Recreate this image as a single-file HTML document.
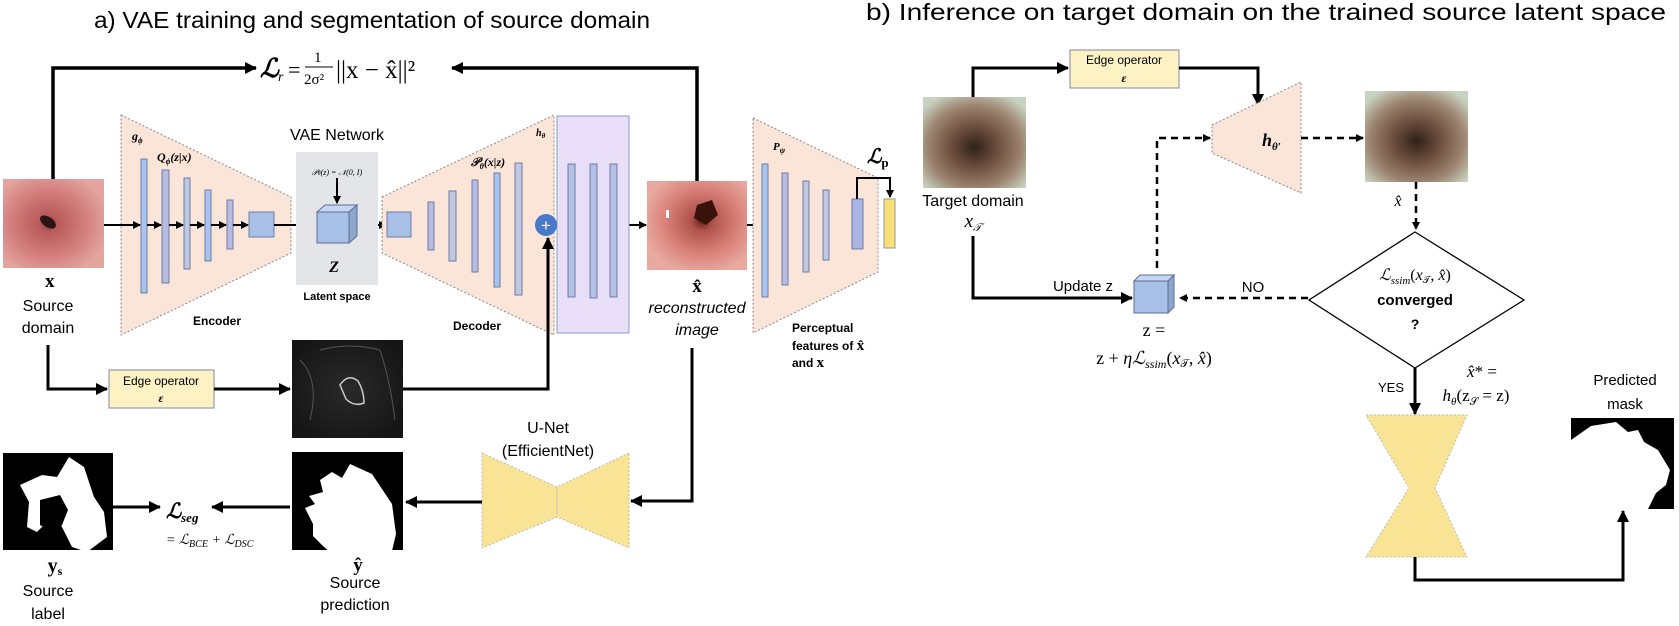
<!DOCTYPE html>
<html><head><meta charset="utf-8"><style>
html,body{margin:0;padding:0;background:#fff;}
svg{display:block;}
.t{font-family:"Liberation Sans",sans-serif;}
.m{font-family:"Liberation Serif",serif;font-style:italic;}
.b{font-family:"Liberation Serif",serif;font-weight:bold;}
</style></head><body>
<svg width="1679" height="626" viewBox="0 0 1679 626" xmlns="http://www.w3.org/2000/svg">
<defs>
<marker id="a" markerWidth="8" markerHeight="8" refX="7" refY="4" orient="auto" markerUnits="userSpaceOnUse"><path d="M0,0 L8,4 L0,8 z" fill="#000"/></marker>
<marker id="s" markerWidth="12" markerHeight="12" refX="11" refY="6" orient="auto" markerUnits="userSpaceOnUse"><path d="M0,0 L12,6 L0,12 z" fill="#000"/></marker>
<radialGradient id="src" cx="45%" cy="50%" r="60%"><stop offset="0" stop-color="#7a3a38"/><stop offset="0.15" stop-color="#b85a5a"/><stop offset="0.6" stop-color="#d27d7c"/><stop offset="1" stop-color="#e3a59e"/></radialGradient>
<radialGradient id="rec" cx="55%" cy="45%" r="60%"><stop offset="0" stop-color="#5a1f18"/><stop offset="0.18" stop-color="#b0534c"/><stop offset="0.6" stop-color="#d88078"/><stop offset="1" stop-color="#e8aaa0"/></radialGradient>
<radialGradient id="tgt" cx="50%" cy="55%" r="65%"><stop offset="0" stop-color="#2e2218"/><stop offset="0.35" stop-color="#6e4e3e"/><stop offset="0.7" stop-color="#9c8470"/><stop offset="1" stop-color="#c8d2c0"/></radialGradient>
<radialGradient id="edg" cx="50%" cy="50%" r="60%"><stop offset="0" stop-color="#2a2a2a"/><stop offset="1" stop-color="#151515"/></radialGradient>
</defs>

<text x="94" y="28" class="t" font-size="23" textLength="556" lengthAdjust="spacingAndGlyphs">a) VAE training and segmentation of source domain</text>
<text x="866" y="20" class="t" font-size="23" textLength="800" lengthAdjust="spacingAndGlyphs">b) Inference on target domain on the trained source latent space</text>

<polyline points="53,179 53,68 256,68" fill="none" stroke="#000" stroke-width="3.5" marker-end="url(#s)"/>
<polyline points="697,181 697,68 452,68" fill="none" stroke="#000" stroke-width="3.5" marker-end="url(#s)"/>
<text x="260" y="77" class="m" font-size="26" font-weight="bold">ℒ</text><text x="278" y="81" class="m" font-size="14">r</text>
<text x="288" y="77" font-family="Liberation Serif" font-size="22">=</text>
<text x="314" y="62" font-family="Liberation Serif" font-size="15">1</text>
<line x1="305" y1="67" x2="333" y2="67" stroke="#000" stroke-width="1"/>
<text x="304" y="84" font-family="Liberation Serif" font-size="15">2σ²</text>
<text x="336" y="78" font-family="Liberation Serif" font-size="25">||x − x̂||²</text>

<rect x="3" y="179" width="101" height="89" fill="url(#src)"/>
<ellipse cx="48" cy="222" rx="9" ry="5" fill="#2a1414" transform="rotate(35 48 222)"/>
<text x="45" y="287" class="b" font-size="19">x</text>
<text x="48" y="311" class="t" font-size="16" text-anchor="middle">Source</text>
<text x="48" y="333" class="t" font-size="16" text-anchor="middle">domain</text>

<polygon points="121,115 291,197 291,253 121,335" fill="#fbe5d8" stroke="#888" stroke-width="1" stroke-dasharray="2,2"/>
<g stroke="#6c7ca8" stroke-width="1">
<rect x="141" y="159" width="6" height="134" fill="#a8c4ec"/>
<rect x="162" y="170" width="7" height="113" fill="#b8bde0"/>
<rect x="184" y="178" width="6" height="91" fill="#c0c8e0"/>
<rect x="205" y="190" width="6" height="71" fill="#a8c4ec"/>
<rect x="227" y="200" width="6" height="49" fill="#b8bde0"/>
<rect x="249" y="212" width="25" height="25" fill="#a9c0e6"/>
</g>
<g stroke="#000" stroke-width="2" marker-end="url(#a)">
<line x1="104" y1="225" x2="140" y2="225"/><line x1="147" y1="225" x2="161" y2="225"/><line x1="169" y1="225" x2="183" y2="225"/><line x1="190" y1="225" x2="204" y2="225"/><line x1="211" y1="225" x2="226" y2="225"/><line x1="233" y1="225" x2="248" y2="225"/>
<line x1="274" y1="225" x2="316" y2="225"/><line x1="357" y1="225" x2="386" y2="225"/>
<line x1="411" y1="225" x2="427" y2="225"/><line x1="434" y1="225" x2="448" y2="225"/><line x1="456" y1="225" x2="471" y2="225"/><line x1="479" y1="225" x2="493" y2="225"/><line x1="500" y1="225" x2="514" y2="225"/><line x1="522" y1="225" x2="535" y2="225"/>
<line x1="557" y1="225" x2="567" y2="225"/><line x1="576" y1="225" x2="589" y2="225"/><line x1="597" y1="225" x2="609" y2="225"/><line x1="617" y1="225" x2="646" y2="225"/>
<line x1="747" y1="225" x2="761" y2="225"/><line x1="768" y1="225" x2="781" y2="225"/><line x1="788" y1="225" x2="802" y2="225"/><line x1="809" y1="225" x2="822" y2="225"/><line x1="829" y1="225" x2="851" y2="225"/>
</g>
<text x="132" y="140" class="m" font-size="12" font-weight="bold">g<tspan font-size="8" dy="3">ϕ</tspan></text>
<text x="157" y="161" class="m" font-size="12" font-weight="bold">Q<tspan font-size="8" dy="3">ϕ</tspan><tspan dy="-3">(z|x)</tspan></text>
<text x="217" y="325" class="t" font-size="12" font-weight="bold" text-anchor="middle">Encoder</text>

<rect x="296" y="152" width="82" height="133" fill="#e3e5e8"/>
<text x="337" y="140" class="t" font-size="16" text-anchor="middle">VAE Network</text>
<text x="337" y="175" class="m" font-size="8" text-anchor="middle">𝒫<tspan font-size="6">θ</tspan>(z) = 𝒩(0, I)</text>
<line x1="337" y1="178" x2="337" y2="203" stroke="#000" stroke-width="2" marker-end="url(#a)"/>
<polygon points="317,212 325,205 357,205 349,212" fill="#c6d6f0" stroke="#5a6e96"/>
<polygon points="349,212 357,205 357,236 349,243" fill="#8fa6cc" stroke="#5a6e96"/>
<rect x="317" y="212" width="32" height="31" fill="#a9c0e6" stroke="#5a6e96"/>
<text x="334" y="272" class="m" font-size="16" font-weight="bold" text-anchor="middle">Z</text>
<text x="337" y="300" class="t" font-size="11" font-weight="bold" text-anchor="middle">Latent space</text>

<polygon points="382,197 554,115 554,335 382,253" fill="#fbe5d8" stroke="#888" stroke-width="1" stroke-dasharray="2,2"/>
<g stroke="#6c7ca8" stroke-width="1">
<rect x="387" y="212" width="24" height="25" fill="#a9c0e6"/>
<rect x="428" y="202" width="6" height="48" fill="#b8bde0"/>
<rect x="449" y="191" width="7" height="70" fill="#c0c8e0"/>
<rect x="472" y="180" width="6" height="92" fill="#b8bde0"/>
<rect x="494" y="173" width="6" height="114" fill="#a8c4ec"/>
<rect x="515" y="163" width="7" height="132" fill="#c0c8e0"/>
</g>
<text x="471" y="166" class="m" font-size="12" font-weight="bold">𝒫<tspan font-size="8" dy="3">θ</tspan><tspan dy="-3">(x|z)</tspan></text>
<text x="536" y="136" class="m" font-size="10" font-weight="bold">h<tspan font-size="7" dy="2">θ</tspan></text>
<text x="477" y="330" class="t" font-size="12" font-weight="bold" text-anchor="middle">Decoder</text>

<rect x="557" y="116" width="72" height="217" fill="#eadff8" stroke="#8a98cc" stroke-width="1"/>
<g stroke="#6c7ca8" stroke-width="1" fill="#b4c0e4">
<rect x="568" y="164" width="7" height="133"/><rect x="590" y="164" width="7" height="134"/><rect x="610" y="164" width="7" height="133"/>
</g>
<circle cx="546" cy="225" r="11" fill="#4a78c8"/>
<text x="546" y="231" class="t" font-size="17" fill="#fff" text-anchor="middle">+</text>

<polyline points="48,345 48,389 107,389" fill="none" stroke="#000" stroke-width="3" marker-end="url(#s)"/>
<rect x="109" y="370" width="105" height="38" fill="#fcf2c4" stroke="#7f8aa0"/>
<text x="161" y="385" class="t" font-size="12" text-anchor="middle">Edge operator</text>
<text x="161" y="402" class="m" font-size="12" font-weight="bold" text-anchor="middle">ε</text>
<line x1="214" y1="389" x2="290" y2="389" stroke="#000" stroke-width="3" marker-end="url(#s)"/>
<rect x="292" y="340" width="111" height="98" fill="url(#edg)"/>
<path d="M340,385 q8,-12 18,-4 q6,10 6,22 q-10,4 -18,-4 z" fill="none" stroke="#ccc" stroke-width="1.5"/>
<path d="M300,360 q20,20 10,60 M380,350 q10,30 15,70 M320,350 q30,-8 60,0" stroke="#555" fill="none"/>
<polyline points="403,389 548,389 548,238" fill="none" stroke="#000" stroke-width="3" marker-end="url(#s)"/>

<rect x="647" y="181" width="100" height="89" fill="url(#rec)"/>
<polygon points="697,205 712,200 718,215 706,225 694,218" fill="#3a120c"/>
<rect x="666" y="210" width="3" height="8" fill="#fff"/>
<text x="697" y="292" class="b" font-size="19" text-anchor="middle">x̂</text>
<text x="697" y="313" class="t" font-size="16" font-style="italic" text-anchor="middle">reconstructed</text>
<text x="697" y="335" class="t" font-size="16" font-style="italic" text-anchor="middle">image</text>

<polygon points="753,118 878,178 878,272 753,333" fill="#fbe5d8" stroke="#888" stroke-width="1" stroke-dasharray="2,2"/>
<g stroke="#6c7ca8" stroke-width="1">
<rect x="762" y="164" width="6" height="133" fill="#a8c4ec"/>
<rect x="782" y="173" width="6" height="112" fill="#b8bde0"/>
<rect x="803" y="181" width="6" height="91" fill="#c0c8e0"/>
<rect x="823" y="190" width="6" height="70" fill="#c0c8e0"/>
<rect x="852" y="199" width="11" height="50" fill="#a9b4e0"/>
</g>
<rect x="884" y="199" width="11" height="49" fill="#f8df78" stroke="#999"/>
<polyline points="857,199 857,178 890,178 890,197" fill="none" stroke="#000" stroke-width="2" marker-end="url(#a)"/>
<text x="773" y="150" class="m" font-size="11" font-weight="bold">P<tspan font-size="8" dy="3">ψ</tspan></text>
<text x="867" y="163" class="m" font-size="20" font-weight="bold">ℒ<tspan font-size="13" dy="4" font-style="normal">p</tspan></text>
<text x="792" y="332" class="t" font-size="12" font-weight="bold">Perceptual</text>
<text x="792" y="350" class="t" font-size="12" font-weight="bold">features of <tspan font-family="Liberation Serif" font-size="15">x̂</tspan></text>
<text x="792" y="367" class="t" font-size="12" font-weight="bold">and <tspan font-family="Liberation Serif" font-size="15">x</tspan></text>

<polyline points="692,348 692,501 631,501" fill="none" stroke="#000" stroke-width="3" marker-end="url(#s)"/>
<polygon points="482,453 557,487 557,517 482,548" fill="#f9e394" stroke="#bbb" stroke-dasharray="2,2"/>
<polygon points="629,453 557,487 557,517 629,548" fill="#f9e394" stroke="#bbb" stroke-dasharray="2,2"/>
<text x="548" y="433" class="t" font-size="16" text-anchor="middle">U-Net</text>
<text x="548" y="456" class="t" font-size="16" text-anchor="middle">(EfficientNet)</text>
<line x1="482" y1="502" x2="406" y2="502" stroke="#000" stroke-width="3" marker-end="url(#s)"/>

<rect x="292" y="452" width="111" height="98" fill="#000"/>
<path d="M320,480 l12,-8 l10,6 l8,-14 l22,10 l20,30 l4,30 l-8,34 l-40,0 l-25,-22 l-10,-10 l0,-12 l-8,-16 l10,-4 l-6,-8 l14,-4 z" fill="#fff"/>
<text x="358" y="571" class="b" font-size="19" text-anchor="middle">ŷ</text>
<text x="355" y="588" class="t" font-size="16" text-anchor="middle">Source</text>
<text x="355" y="610" class="t" font-size="16" text-anchor="middle">prediction</text>
<line x1="290" y1="507" x2="212" y2="507" stroke="#000" stroke-width="3" marker-end="url(#s)"/>

<rect x="3" y="453" width="110" height="97" fill="#000"/>
<path d="M20,485 l22,-10 l15,2 l12,-20 l15,10 l10,30 l10,15 l3,25 l-20,15 l-15,-5 l-10,-20 l-15,-5 l-10,10 l-10,-5 l2,-25 z" fill="#fff"/>
<path d="M40,500 l20,-5 l8,15 l-10,25 l-18,-10 z" fill="#000"/>
<line x1="113" y1="507" x2="160" y2="507" stroke="#000" stroke-width="3" marker-end="url(#s)"/>
<text x="166" y="518" class="m" font-size="21" font-weight="bold">ℒ<tspan font-size="13" dy="4">seg</tspan></text>
<text x="166" y="544" class="m" font-size="14" font-style="normal">= <tspan font-style="italic">ℒ</tspan><tspan font-size="10" dy="3" font-style="italic">BCE</tspan><tspan dy="-3"> + </tspan><tspan font-style="italic">ℒ</tspan><tspan font-size="10" dy="3" font-style="italic">DSC</tspan></text>
<text x="55" y="572" class="b" font-size="20" text-anchor="middle">y<tspan font-size="12" dy="3">s</tspan></text>
<text x="48" y="596" class="t" font-size="16" text-anchor="middle">Source</text>
<text x="48" y="619" class="t" font-size="16" text-anchor="middle">label</text>

<rect x="923" y="97" width="103" height="91" fill="url(#tgt)"/>
<text x="973" y="206" class="t" font-size="16" text-anchor="middle">Target domain</text>
<text x="973" y="227" class="m" font-size="19" text-anchor="middle">x<tspan font-size="11" dy="4">𝒯</tspan></text>
<polyline points="973,97 973,68 1068,68" fill="none" stroke="#000" stroke-width="3" marker-end="url(#s)"/>
<rect x="1070" y="50" width="109" height="38" fill="#fcf2c4" stroke="#7f8aa0"/>
<text x="1124" y="64" class="t" font-size="12" text-anchor="middle">Edge operator</text>
<text x="1124" y="82" class="m" font-size="12" font-weight="bold" text-anchor="middle">ε</text>
<polyline points="1179,68 1258,68 1258,105" fill="none" stroke="#000" stroke-width="3" marker-end="url(#s)"/>
<polygon points="1212,125 1301,82 1301,193 1212,153" fill="#fbe5d8" stroke="#888" stroke-dasharray="2,2"/>
<text x="1262" y="146" class="m" font-size="18" font-weight="bold">h<tspan font-size="11" dy="4">θ′</tspan></text>
<polyline points="1157,268 1157,138 1210,138" fill="none" stroke="#000" stroke-width="2.5" stroke-dasharray="7,5" marker-end="url(#a)"/>
<line x1="1301" y1="138" x2="1363" y2="138" stroke="#000" stroke-width="2.5" stroke-dasharray="7,5" marker-end="url(#a)"/>
<rect x="1365" y="91" width="103" height="91" fill="url(#tgt)"/>
<text x="1398" y="206" class="m" font-size="16" text-anchor="middle">x̂</text>
<line x1="1416" y1="182" x2="1416" y2="229" stroke="#000" stroke-width="2.5" stroke-dasharray="7,5" marker-end="url(#a)"/>

<polyline points="973,236 973,298 1132,298" fill="none" stroke="#000" stroke-width="3" marker-end="url(#s)"/>
<text x="1083" y="291" class="t" font-size="15" text-anchor="middle">Update z</text>
<polygon points="1134,281 1140,275 1174,275 1168,281" fill="#c6d6f0" stroke="#5a6e96"/>
<polygon points="1168,281 1174,275 1174,307 1168,313" fill="#8fa6cc" stroke="#5a6e96"/>
<rect x="1134" y="281" width="34" height="32" fill="#a9c0e6" stroke="#5a6e96"/>
<line x1="1308" y1="298" x2="1180" y2="298" stroke="#000" stroke-width="2.5" stroke-dasharray="7,5" marker-end="url(#a)"/>
<text x="1253" y="292" class="t" font-size="15" text-anchor="middle">NO</text>
<text x="1154" y="336" font-family="Liberation Serif" font-size="18" text-anchor="middle">z =</text>
<text x="1154" y="364" font-family="Liberation Serif" font-size="18" text-anchor="middle">z + <tspan font-style="italic">η</tspan><tspan font-style="italic">ℒ</tspan><tspan font-size="12" dy="4" font-style="italic">ssim</tspan><tspan dy="-4">(</tspan><tspan font-style="italic">x</tspan><tspan font-size="11" dy="3">𝒯</tspan><tspan dy="-3">, </tspan><tspan font-style="italic">x̂</tspan>)</text>

<polygon points="1415,232 1524,300 1415,368 1309,300" fill="#fff" stroke="#000" stroke-width="1.3"/>
<text x="1415" y="280" font-family="Liberation Serif" font-size="16" text-anchor="middle"><tspan font-style="italic">ℒ</tspan><tspan font-size="11" dy="4" font-style="italic">ssim</tspan><tspan dy="-4">(</tspan><tspan font-style="italic">x</tspan><tspan font-size="10" dy="3">𝒯</tspan><tspan dy="-3">, </tspan><tspan font-style="italic">x̂</tspan>)</text>
<text x="1415" y="305" class="t" font-size="15" font-weight="bold" text-anchor="middle">converged</text>
<text x="1415" y="329" class="t" font-size="14" font-weight="bold" text-anchor="middle">?</text>

<line x1="1415" y1="368" x2="1415" y2="414" stroke="#000" stroke-width="3" marker-end="url(#s)"/>
<text x="1391" y="392" class="t" font-size="13" text-anchor="middle">YES</text>
<text x="1482" y="377" font-family="Liberation Serif" font-size="17" text-anchor="middle"><tspan font-style="italic">x̂</tspan>* =</text>
<text x="1476" y="401" font-family="Liberation Serif" font-size="17" text-anchor="middle"><tspan font-style="italic">h</tspan><tspan font-size="11" dy="4" font-style="italic">θ</tspan><tspan dy="-4">(z</tspan><tspan font-size="11" dy="4">𝒮</tspan><tspan dy="-4"> = z)</tspan></text>

<polygon points="1366,415 1467,415 1435,488 1467,557 1366,557 1409,488" fill="#f9e394" stroke="#bbb" stroke-dasharray="2,2"/>
<polyline points="1415,557 1415,580 1623,580 1623,511" fill="none" stroke="#000" stroke-width="3" marker-end="url(#s)"/>
<rect x="1571" y="418" width="103" height="91" fill="#000"/>
<path d="M1571,440 l20,-14 l25,-4 l12,10 l10,-2 l6,12 l14,8 l12,20 l-4,15 l-10,8 l-8,16 l-77,0 z" fill="#fff"/>
<text x="1625" y="385" class="t" font-size="15" text-anchor="middle">Predicted</text>
<text x="1625" y="409" class="t" font-size="15" text-anchor="middle">mask</text>
</svg>
</body></html>
